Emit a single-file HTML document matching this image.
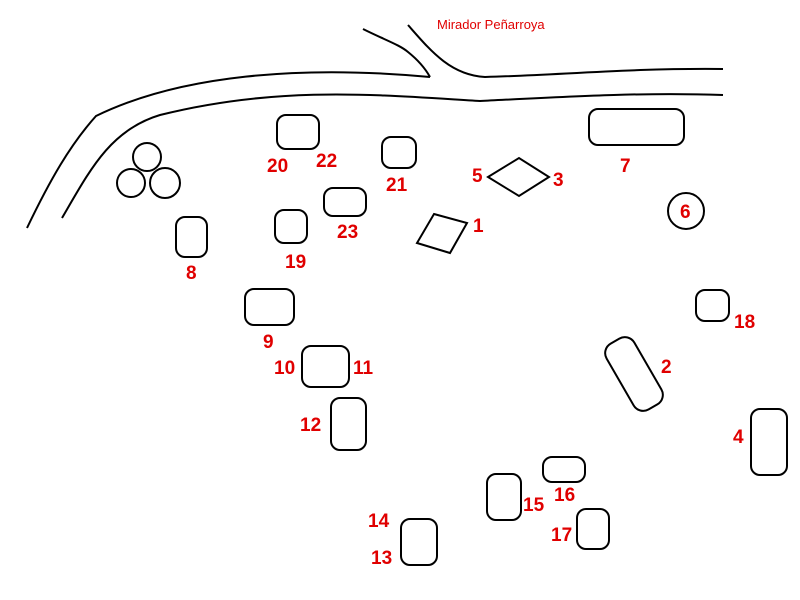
<!DOCTYPE html>
<html><head><meta charset="utf-8"><style>body{margin:0;background:#fff}svg{display:block}</style></head><body>
<svg width="800" height="600" xmlns="http://www.w3.org/2000/svg">
<g fill="none" stroke="#000" stroke-width="2">
<path d="M27,228 C50,180 70,145 96,116 C180,75 300,65 430,77"/>
<path d="M363,29 C385,40 400,45 408,52 C418,60 425,68 430,77"/>
<path d="M408,25 C430,50 450,75 485,77 C560,75 630,68 723,69"/>
<path d="M62,218 C90,170 110,130 160,115 C280,85 380,95 480,101 C560,97 640,92 723,95"/>
<circle cx="147" cy="157" r="14"/><circle cx="131" cy="183" r="14"/><circle cx="165" cy="183" r="15"/>
<rect x="277" y="115" width="42" height="34" rx="9"/>
<rect x="382" y="137" width="34" height="31" rx="9"/>
<rect x="589" y="109" width="95" height="36" rx="9"/>
<rect x="324" y="188" width="42" height="28" rx="9"/>
<rect x="275" y="210" width="32" height="33" rx="9"/>
<rect x="176" y="217" width="31" height="40" rx="9"/>
<rect x="245" y="289" width="49" height="36" rx="9"/>
<rect x="302" y="346" width="47" height="41" rx="9"/>
<rect x="331" y="398" width="35" height="52" rx="9"/>
<rect x="696" y="290" width="33" height="31" rx="9"/>
<rect x="751" y="409" width="36" height="66" rx="9"/>
<rect x="543" y="457" width="42" height="25" rx="9"/>
<rect x="487" y="474" width="34" height="46" rx="9"/>
<rect x="577" y="509" width="32" height="40" rx="9"/>
<rect x="401" y="519" width="36" height="46" rx="9"/>
<circle cx="686" cy="211" r="18"/>
<rect x="618" y="336" width="32" height="76" rx="11" transform="rotate(-30 634 374)"/>
<polygon points="488,177 519,158 549,177 519,196"/>
<polygon points="434,214 467,223 450,253 417,243"/>
</g>
<text x="437" y="29" font-family="Liberation Sans, sans-serif" font-size="13" fill="#e00000">Mirador Peñarroya</text>
<g font-family="Liberation Sans, sans-serif" font-size="19" font-weight="bold" fill="#e00000">
<text x="267" y="172">20</text><text x="316" y="167">22</text><text x="386" y="191">21</text>
<text x="472" y="182">5</text><text x="553" y="186">3</text><text x="620" y="172">7</text>
<text x="680" y="218">6</text><text x="473" y="232">1</text><text x="337" y="238">23</text>
<text x="285" y="268">19</text><text x="186" y="279">8</text><text x="263" y="348">9</text>
<text x="274" y="374">10</text><text x="353" y="374">11</text><text x="300" y="431">12</text>
<text x="734" y="328">18</text><text x="661" y="373">2</text><text x="733" y="443">4</text>
<text x="554" y="501">16</text><text x="523" y="511">15</text><text x="551" y="541">17</text>
<text x="368" y="527">14</text><text x="371" y="564">13</text>
</g>
</svg>
</body></html>
